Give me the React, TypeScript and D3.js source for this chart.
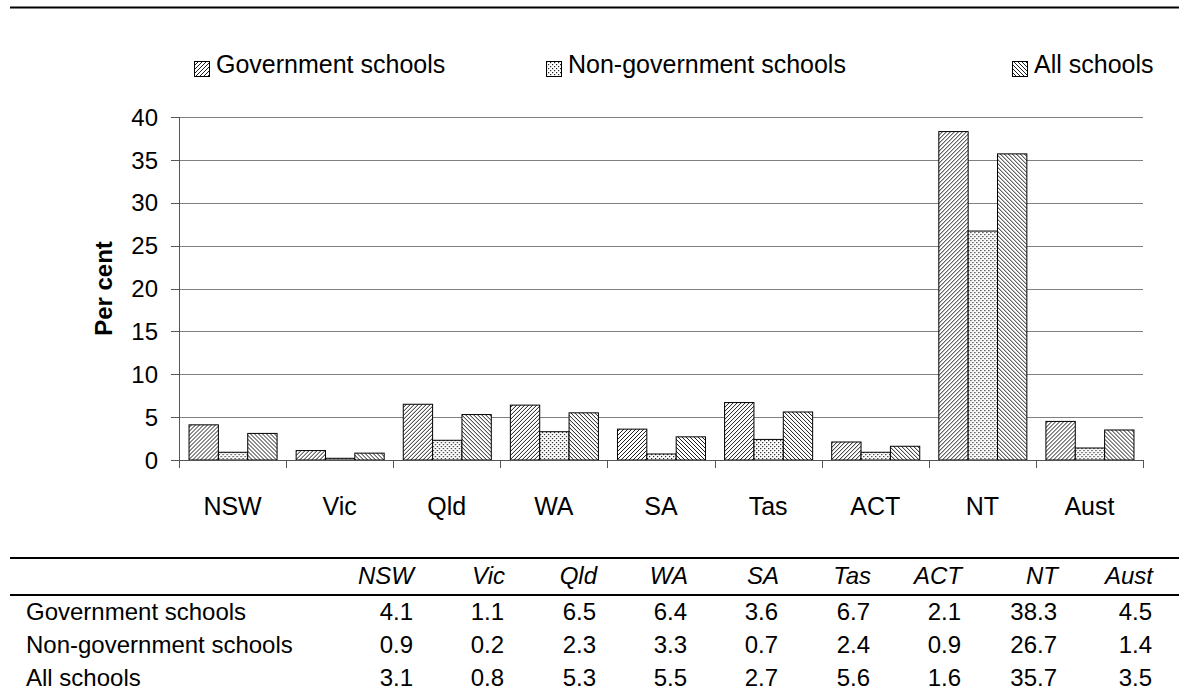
import React from "react";
import * as d3 from "d3";

// Jurisdictions shown along the x axis and as table columns
const categories = ["NSW", "Vic", "Qld", "WA", "SA", "Tas", "ACT", "NT", "Aust"];

// Per cent values by school sector
const govValues = [4.1, 1.1, 6.5, 6.4, 3.6, 6.7, 2.1, 38.3, 4.5];
const nonGovValues = [0.9, 0.2, 2.3, 3.3, 0.7, 2.4, 0.9, 26.7, 1.4];
const allValues = [3.1, 0.8, 5.3, 5.5, 2.7, 5.6, 1.6, 35.7, 3.5];

const seriesNames = ["Government schools", "Non-government schools", "All schools"];
const patternIds = ["pat-gov", "pat-nongov", "pat-all"];

const yTicks = [0, 5, 10, 15, 20, 25, 30, 35, 40];
const yLabel = "Per cent";

const FONT = "'Liberation Sans', Arial, Helvetica, sans-serif";
const W = 1179;
const H = 695;

const plot = { left: 179, right: 1143, top: 117, bottom: 460 };

// right edges of the table's numeric columns
const tableColRight = [413, 504, 596, 687, 778, 870, 961, 1057, 1152];
const legendX = [194, 546, 1012];

export default function App() {
  const series = [govValues, nonGovValues, allValues];

  const y = d3.scaleLinear().domain([0, 40]).range([plot.bottom, plot.top]);
  const x0 = d3
    .scaleBand<string>()
    .domain(categories)
    .range([plot.left, plot.right])
    .paddingInner(0.178)
    .paddingOuter(0.089);
  const x1 = d3
    .scaleBand<number>()
    .domain([0, 1, 2])
    .range([0, x0.bandwidth()]);

  const step = x0.step();
  const boundaries = d3.range(categories.length + 1).map((i) => plot.left + i * step);

  return (
    <svg
      width={W}
      height={H}
      viewBox={`0 0 ${W} ${H}`}
      style={{ position: "absolute", left: 0, top: 0, background: "#fff" }}
      fontFamily={FONT}
    >
      <defs>
        <pattern id="pat-gov" patternUnits="userSpaceOnUse" width={4} height={4}>
          <rect width={4} height={4} fill="#fff" />
          <path d="M-1,1 l2,-2 M0,4 l4,-4 M3,5 l2,-2" stroke="#111" strokeWidth={0.95} />
        </pattern>
        <pattern id="pat-all" patternUnits="userSpaceOnUse" width={4} height={4}>
          <rect width={4} height={4} fill="#fff" />
          <path d="M-1,3 l2,2 M0,0 l4,4 M3,-1 l2,2" stroke="#111" strokeWidth={0.95} />
        </pattern>
        <pattern id="pat-nongov" patternUnits="userSpaceOnUse" width={4} height={4}>
          <rect width={4} height={4} fill="#fff" />
          <rect x={0} y={0} width={1.2} height={1.2} fill="#222" />
          <rect x={2} y={2} width={1.2} height={1.2} fill="#222" />
        </pattern>
      </defs>

      {/* top rule */}
      <line x1={10} x2={W} y1={7.5} y2={7.5} stroke="#000" strokeWidth={2} />

      {/* legend */}
      {seriesNames.map((name, i) => (
        <g key={name}>
          <rect
            x={legendX[i] + 0.5}
            y={61.5}
            width={15}
            height={15}
            fill={`url(#${patternIds[i]})`}
            stroke="#000"
            strokeWidth={1}
          />
          <text x={legendX[i] + 22} y={73} fontSize={25} fill="#000">
            {name}
          </text>
        </g>
      ))}

      {/* gridlines and y ticks */}
      {yTicks.map((t) => (
        <g key={t}>
          {t > 0 && (
            <line
              x1={plot.left}
              x2={plot.right}
              y1={Math.round(y(t)) + 0.5}
              y2={Math.round(y(t)) + 0.5}
              stroke="#808080"
              strokeWidth={1.2}
            />
          )}
          <line
            x1={plot.left - 8}
            x2={plot.left}
            y1={Math.round(y(t)) + 0.5}
            y2={Math.round(y(t)) + 0.5}
            stroke="#555"
            strokeWidth={1}
          />
          <text
            x={158}
            y={y(t)}
            dy="0.36em"
            textAnchor="end"
            fontSize={24}
            fill="#000"
          >
            {t}
          </text>
        </g>
      ))}

      {/* bars */}
      {categories.map((c, ci) => (
        <g key={c} transform={`translate(${x0(c)},0)`}>
          {series.map((vals, si) => (
            <rect
              key={si}
              x={x1(si)! + 0.5}
              y={y(vals[ci])}
              width={x1.bandwidth()}
              height={y(0) - y(vals[ci])}
              fill={`url(#${patternIds[si]})`}
              stroke="#000"
              strokeWidth={1}
            />
          ))}
        </g>
      ))}

      {/* axes */}
      <line
        x1={plot.left + 0.5}
        x2={plot.left + 0.5}
        y1={plot.top}
        y2={plot.bottom + 8}
        stroke="#555"
        strokeWidth={1}
      />
      <line
        x1={plot.left}
        x2={plot.right}
        y1={plot.bottom + 0.5}
        y2={plot.bottom + 0.5}
        stroke="#555"
        strokeWidth={1}
      />
      {boundaries.map((bx, i) => (
        <line
          key={i}
          x1={Math.round(bx) + 0.5}
          x2={Math.round(bx) + 0.5}
          y1={plot.bottom}
          y2={plot.bottom + 8}
          stroke="#555"
          strokeWidth={1}
        />
      ))}
      {categories.map((c) => (
        <text
          key={c}
          x={x0(c)! + x0.bandwidth() / 2}
          y={515}
          textAnchor="middle"
          fontSize={25}
          fill="#000"
        >
          {c}
        </text>
      ))}

      {/* y axis title */}
      <text
        transform={`translate(112, ${(plot.top + plot.bottom) / 2}) rotate(-90)`}
        textAnchor="middle"
        fontSize={24}
        fontWeight="bold"
        fill="#000"
      >
        {yLabel}
      </text>

      {/* data table */}
      <line x1={10} x2={W} y1={558} y2={558} stroke="#000" strokeWidth={2} />
      <line x1={10} x2={W} y1={595} y2={595} stroke="#000" strokeWidth={2} />
      {categories.map((c, i) => (
        <text
          key={c}
          x={tableColRight[i] + 1}
          y={584}
          textAnchor="end"
          fontSize={24}
          fontStyle="italic"
          fill="#000"
        >
          {c}
        </text>
      ))}
      {series.map((vals, si) => (
        <g key={si}>
          <text x={26} y={620 + si * 33} fontSize={24} fill="#000">
            {seriesNames[si]}
          </text>
          {vals.map((v, i) => (
            <text
              key={i}
              x={tableColRight[i]}
              y={620 + si * 33}
              textAnchor="end"
              fontSize={24}
              fill="#000"
            >
              {v.toFixed(1)}
            </text>
          ))}
        </g>
      ))}
    </svg>
  );
}
